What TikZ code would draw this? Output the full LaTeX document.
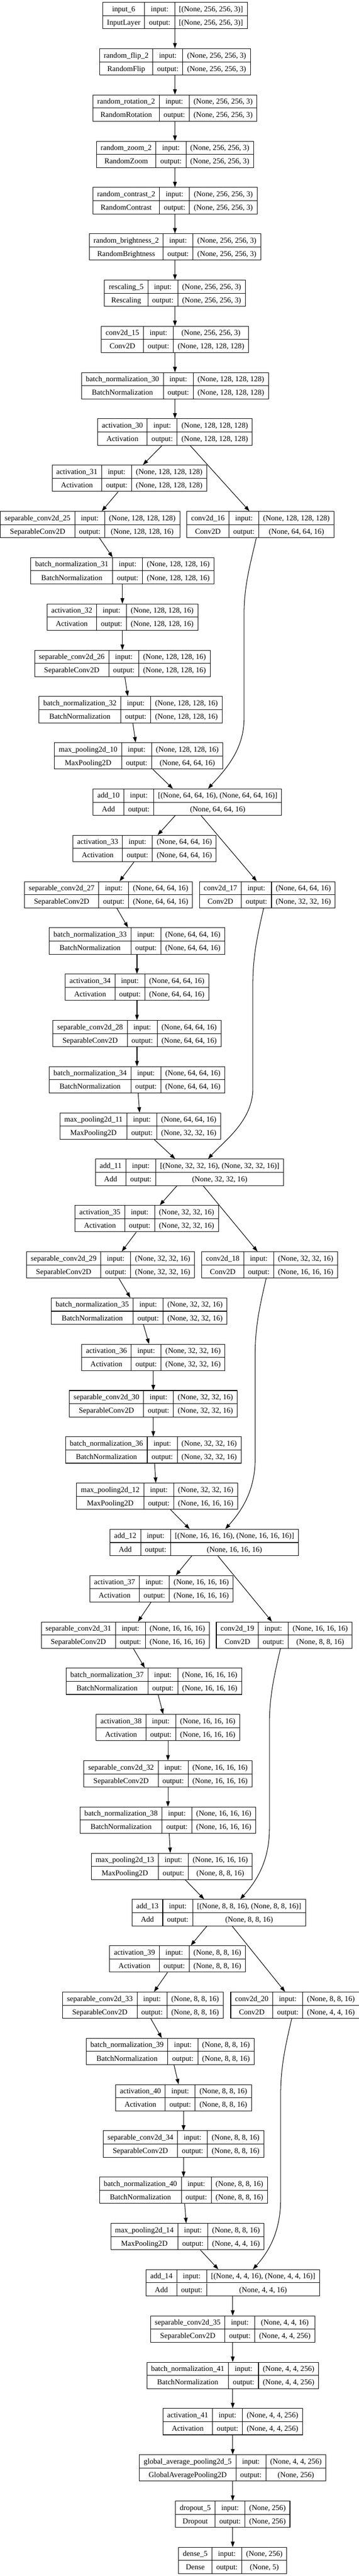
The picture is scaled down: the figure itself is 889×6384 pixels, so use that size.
\documentclass[tikz,border=0pt]{standalone}
\usepackage{fontspec}
\setmainfont{Liberation Serif}
\usepackage{tikz}
\usetikzlibrary{arrows.meta,calc}

\setlength{\tabcolsep}{8pt}
\setlength{\arrayrulewidth}{1pt}
\newcommand{\rowstrut}{\rule[-7.2pt]{0pt}{24pt}}
\newcommand{\layerbox}[4]{\begin{tabular}{c|c|c}\rowstrut #1 & input: & #3\\ \hline \rowstrut #2 & output: & #4\end{tabular}}

\tikzset{
  layer/.style={draw, line width=1pt, inner sep=0pt, fill=white, font=\fontsize{14}{16.8}\selectfont},
  edge/.style={line width=1pt, -{Triangle[length=10pt,width=7pt]}}
}

\begin{document}
\begin{tikzpicture}[x=0.75pt, y=-0.75pt]
\useasboundingbox (0,0) rectangle (889,6384);

\node[layer] (in6) at (433.7,38.6) {\layerbox{input\_6}{InputLayer}{[(None, 256, 256, 3)]}{[(None, 256, 256, 3)]}};
\node[layer] (flip2) at (433.7,153.3) {\layerbox{random\_flip\_2}{RandomFlip}{(None, 256, 256, 3)}{(None, 256, 256, 3)}};
\node[layer] (rot2) at (433.7,267.9) {\layerbox{random\_rotation\_2}{RandomRotation}{(None, 256, 256, 3)}{(None, 256, 256, 3)}};
\node[layer] (zoom2) at (433.7,382.6) {\layerbox{random\_zoom\_2}{RandomZoom}{(None, 256, 256, 3)}{(None, 256, 256, 3)}};
\node[layer] (contr2) at (433.7,497.3) {\layerbox{random\_contrast\_2}{RandomContrast}{(None, 256, 256, 3)}{(None, 256, 256, 3)}};
\node[layer] (bright2) at (433.7,611.9) {\layerbox{random\_brightness\_2}{RandomBrightness}{(None, 256, 256, 3)}{(None, 256, 256, 3)}};
\node[layer] (resc5) at (433.7,726.6) {\layerbox{rescaling\_5}{Rescaling}{(None, 256, 256, 3)}{(None, 256, 256, 3)}};
\node[layer] (conv15) at (433.7,841.3) {\layerbox{conv2d\_15}{Conv2D}{(None, 256, 256, 3)}{(None, 128, 128, 128)}};
\node[layer] (bn30) at (433.7,956.0) {\layerbox{batch\_normalization\_30}{BatchNormalization}{(None, 128, 128, 128)}{(None, 128, 128, 128)}};
\node[layer] (act30) at (433.7,1070.6) {\layerbox{activation\_30}{Activation}{(None, 128, 128, 128)}{(None, 128, 128, 128)}};
\node[layer] (act31) at (320.8,1185.3) {\layerbox{activation\_31}{Activation}{(None, 128, 128, 128)}{(None, 128, 128, 128)}};
\node[layer] (sep25) at (223.4,1300.0) {\layerbox{separable\_conv2d\_25}{SeparableConv2D}{(None, 128, 128, 128)}{(None, 128, 128, 16)}};
\node[layer] (conv16) at (645.6,1300.0) {\layerbox{conv2d\_16}{Conv2D}{(None, 128, 128, 128)}{(None, 64, 64, 16)}};
\node[layer] (bn31) at (303.4,1414.6) {\layerbox{batch\_normalization\_31}{BatchNormalization}{(None, 128, 128, 16)}{(None, 128, 128, 16)}};
\node[layer] (act32) at (303.4,1529.3) {\layerbox{activation\_32}{Activation}{(None, 128, 128, 16)}{(None, 128, 128, 16)}};
\node[layer] (sep26) at (303.4,1644.0) {\layerbox{separable\_conv2d\_26}{SeparableConv2D}{(None, 128, 128, 16)}{(None, 128, 128, 16)}};
\node[layer] (bn32) at (323.6,1758.7) {\layerbox{batch\_normalization\_32}{BatchNormalization}{(None, 128, 128, 16)}{(None, 128, 128, 16)}};
\node[layer] (pool10) at (343.9,1873.3) {\layerbox{max\_pooling2d\_10}{MaxPooling2D}{(None, 128, 128, 16)}{(None, 64, 64, 16)}};
\node[layer] (add10) at (464.4,1988.0) {\layerbox{add\_10}{Add}{[(None, 64, 64, 16), (None, 64, 64, 16)]}{(None, 64, 64, 16)}};
\node[layer] (act33) at (358.4,2102.7) {\layerbox{activation\_33}{Activation}{(None, 64, 64, 16)}{(None, 64, 64, 16)}};
\node[layer] (sep27) at (269.0,2217.3) {\layerbox{separable\_conv2d\_27}{SeparableConv2D}{(None, 64, 64, 16)}{(None, 64, 64, 16)}};
\node[layer] (conv17) at (662.7,2217.3) {\layerbox{conv2d\_17}{Conv2D}{(None, 64, 64, 16)}{(None, 32, 32, 16)}};
\node[layer] (bn33) at (339.6,2332.0) {\layerbox{batch\_normalization\_33}{BatchNormalization}{(None, 64, 64, 16)}{(None, 64, 64, 16)}};
\node[layer] (act34) at (339.6,2446.7) {\layerbox{activation\_34}{Activation}{(None, 64, 64, 16)}{(None, 64, 64, 16)}};
\node[layer] (sep28) at (339.6,2561.3) {\layerbox{separable\_conv2d\_28}{SeparableConv2D}{(None, 64, 64, 16)}{(None, 64, 64, 16)}};
\node[layer] (bn34) at (339.6,2676.0) {\layerbox{batch\_normalization\_34}{BatchNormalization}{(None, 64, 64, 16)}{(None, 64, 64, 16)}};
\node[layer] (pool11) at (347.9,2790.7) {\layerbox{max\_pooling2d\_11}{MaxPooling2D}{(None, 64, 64, 16)}{(None, 32, 32, 16)}};
\node[layer] (add11) at (469.8,2905.4) {\layerbox{add\_11}{Add}{[(None, 32, 32, 16), (None, 32, 32, 16)]}{(None, 32, 32, 16)}};
\node[layer] (act35) at (363.9,3020.0) {\layerbox{activation\_35}{Activation}{(None, 32, 32, 16)}{(None, 32, 32, 16)}};
\node[layer] (sep29) at (274.0,3134.7) {\layerbox{separable\_conv2d\_29}{SeparableConv2D}{(None, 32, 32, 16)}{(None, 32, 32, 16)}};
\node[layer] (conv18) at (668.4,3134.7) {\layerbox{conv2d\_18}{Conv2D}{(None, 32, 32, 16)}{(None, 16, 16, 16)}};
\node[layer] (bn35) at (345.0,3249.4) {\layerbox{batch\_normalization\_35}{BatchNormalization}{(None, 32, 32, 16)}{(None, 32, 32, 16)}};
\node[layer] (act36) at (380.0,3364.0) {\layerbox{activation\_36}{Activation}{(None, 32, 32, 16)}{(None, 32, 32, 16)}};
\node[layer] (sep30) at (380.0,3478.7) {\layerbox{separable\_conv2d\_30}{SeparableConv2D}{(None, 32, 32, 16)}{(None, 32, 32, 16)}};
\node[layer] (bn36) at (380.0,3593.4) {\layerbox{batch\_normalization\_36}{BatchNormalization}{(None, 32, 32, 16)}{(None, 32, 32, 16)}};
\node[layer] (pool12) at (389.5,3708.0) {\layerbox{max\_pooling2d\_12}{MaxPooling2D}{(None, 32, 32, 16)}{(None, 16, 16, 16)}};
\node[layer] (add12) at (506.0,3822.7) {\layerbox{add\_12}{Add}{[(None, 16, 16, 16), (None, 16, 16, 16)]}{(None, 16, 16, 16)}};
\node[layer] (act37) at (400.3,3937.4) {\layerbox{activation\_37}{Activation}{(None, 16, 16, 16)}{(None, 16, 16, 16)}};
\node[layer] (sep31) at (310.5,4052.1) {\layerbox{separable\_conv2d\_31}{SeparableConv2D}{(None, 16, 16, 16)}{(None, 16, 16, 16)}};
\node[layer] (conv19) at (704.6,4052.1) {\layerbox{conv2d\_19}{Conv2D}{(None, 16, 16, 16)}{(None, 8, 8, 16)}};
\node[layer] (bn37) at (381.5,4166.7) {\layerbox{batch\_normalization\_37}{BatchNormalization}{(None, 16, 16, 16)}{(None, 16, 16, 16)}};
\node[layer] (act38) at (416.3,4281.4) {\layerbox{activation\_38}{Activation}{(None, 16, 16, 16)}{(None, 16, 16, 16)}};
\node[layer] (sep32) at (416.3,4396.1) {\layerbox{separable\_conv2d\_32}{SeparableConv2D}{(None, 16, 16, 16)}{(None, 16, 16, 16)}};
\node[layer] (bn38) at (416.3,4510.7) {\layerbox{batch\_normalization\_38}{BatchNormalization}{(None, 16, 16, 16)}{(None, 16, 16, 16)}};
\node[layer] (pool13) at (425.7,4625.4) {\layerbox{max\_pooling2d\_13}{MaxPooling2D}{(None, 16, 16, 16)}{(None, 8, 8, 16)}};
\node[layer] (add13) at (542.2,4740.1) {\layerbox{add\_13}{Add}{[(None, 8, 8, 16), (None, 8, 8, 16)]}{(None, 8, 8, 16)}};
\node[layer] (act39) at (440.2,4854.7) {\layerbox{activation\_39}{Activation}{(None, 8, 8, 16)}{(None, 8, 8, 16)}};
\node[layer] (sep33) at (354.5,4969.4) {\layerbox{separable\_conv2d\_33}{SeparableConv2D}{(None, 8, 8, 16)}{(None, 8, 8, 16)}};
\node[layer] (conv20) at (731.0,4969.4) {\layerbox{conv2d\_20}{Conv2D}{(None, 8, 8, 16)}{(None, 4, 4, 16)}};
\node[layer] (bn39) at (421.7,5084.1) {\layerbox{batch\_normalization\_39}{BatchNormalization}{(None, 8, 8, 16)}{(None, 8, 8, 16)}};
\node[layer] (act40) at (455.0,5198.7) {\layerbox{activation\_40}{Activation}{(None, 8, 8, 16)}{(None, 8, 8, 16)}};
\node[layer] (sep34) at (455.0,5313.4) {\layerbox{separable\_conv2d\_34}{SeparableConv2D}{(None, 8, 8, 16)}{(None, 8, 8, 16)}};
\node[layer] (bn40) at (455.0,5428.1) {\layerbox{batch\_normalization\_40}{BatchNormalization}{(None, 8, 8, 16)}{(None, 8, 8, 16)}};
\node[layer] (pool14) at (464.7,5542.8) {\layerbox{max\_pooling2d\_14}{MaxPooling2D}{(None, 8, 8, 16)}{(None, 4, 4, 16)}};
\node[layer] (add14) at (576.9,5657.4) {\layerbox{add\_14}{Add}{[(None, 4, 4, 16), (None, 4, 4, 16)]}{(None, 4, 4, 16)}};
\node[layer] (sep35) at (576.9,5772.1) {\layerbox{separable\_conv2d\_35}{SeparableConv2D}{(None, 4, 4, 16)}{(None, 4, 4, 256)}};
\node[layer] (bn41) at (576.9,5886.8) {\layerbox{batch\_normalization\_41}{BatchNormalization}{(None, 4, 4, 256)}{(None, 4, 4, 256)}};
\node[layer] (act41) at (576.9,6001.4) {\layerbox{activation\_41}{Activation}{(None, 4, 4, 256)}{(None, 4, 4, 256)}};
\node[layer] (gap5) at (576.9,6116.1) {\layerbox{global\_average\_pooling2d\_5}{GlobalAveragePooling2D}{(None, 4, 4, 256)}{(None, 256)}};
\node[layer] (drop5) at (576.9,6230.8) {\layerbox{dropout\_5}{Dropout}{(None, 256)}{(None, 256)}};
\node[layer] (dense5) at (576.9,6345.5) {\layerbox{dense\_5}{Dense}{(None, 256)}{(None, 5)}};

\draw[edge] (in6.south) -- (flip2.north);
\draw[edge] (flip2.south) -- (rot2.north);
\draw[edge] (rot2.south) -- (zoom2.north);
\draw[edge] (zoom2.south) -- (contr2.north);
\draw[edge] (contr2.south) -- (bright2.north);
\draw[edge] (bright2.south) -- (resc5.north);
\draw[edge] (resc5.south) -- (conv15.north);
\draw[edge] (conv15.south) -- (bn30.north);
\draw[edge] (bn30.south) -- (act30.north);
\draw[edge] ($(act30.south)+(-32,0)$) -- ($(act31.north)+(33.6,0)$);
\draw[edge] ($(act30.south)+(37.5,0)$) -- ($(conv16.north)+(-27.4,0)$);
\draw[edge] ($(act31.south)+(-27.9,0)$) -- ($(sep25.north)+(29,0)$);
\draw[edge] ($(sep25.south)+(23.3,0)$) -- ($(bn31.north)+(-24.2,0)$);
\draw[edge] (bn31.south) -- (act32.north);
\draw[edge] (act32.south) -- (sep26.north);
\draw[edge] ($(sep26.south)+(6,0)$) -- ($(bn32.north)+(-6.8,0)$);
\draw[edge] ($(bn32.south)+(5.7,0)$) -- ($(pool10.north)+(-7.7,0)$);
\draw[edge] ($(pool10.south)+(35,0)$) -- ($(add10.north)+(-35.9,0)$);
\draw[edge] ($(conv16.south)+(-10.3,0)$) .. controls (619.3,1402.7) and (605,1452.7) .. (605,1522.7) -- (605,1780.3) .. controls (605,1860.3) and (555.7,1910.3) .. ($(add10.north)+(51.3,0)$);
\draw[edge] ($(add10.south)+(-30.2,0)$) -- ($(act33.north)+(32.5,0)$);
\draw[edge] ($(add10.south)+(34.2,0)$) -- ($(conv17.north)+(-26.2,0)$);
\draw[edge] ($(act33.south)+(-26.2,0)$) -- ($(sep27.north)+(27.3,0)$);
\draw[edge] ($(sep27.south)+(20.5,0)$) -- ($(bn33.north)+(-22.2,0)$);
\draw[edge] (bn33.south) -- (act34.north);
\draw[edge] (act34.south) -- (sep28.north);
\draw[edge] (sep28.south) -- (bn34.north);
\draw[edge] ($(bn34.south)+(2.9,0)$) -- ($(pool11.north)+(-2,0)$);
\draw[edge] ($(pool11.south)+(34.4,0)$) -- ($(add11.north)+(-35.6,0)$);
\draw[edge] ($(conv17.south)+(-9.1,0)$) .. controls (637.6,2320) and (626.8,2370) .. (626.8,2440) -- (626.8,2697.7) .. controls (626.8,2777.7) and (555.7,2827.7) .. ($(add11.north)+(45.9,0)$);
\draw[edge] ($(add11.south)+(-31.1,0)$) -- ($(act35.north)+(32.1,0)$);
\draw[edge] ($(add11.south)+(33.9,0)$) -- ($(conv18.north)+(-30.2,0)$);
\draw[edge] ($(act35.south)+(-26,0)$) -- ($(sep29.north)+(28,0)$);
\draw[edge] ($(sep29.south)+(20.6,0)$) -- ($(bn35.north)+(-21.9,0)$);
\draw[edge] ($(bn35.south)+(10.6,0)$) -- ($(act36.north)+(-10.6,0)$);
\draw[edge] (act36.south) -- (sep30.north);
\draw[edge] (sep30.south) -- (bn36.north);
\draw[edge] ($(bn36.south)+(3.1,0)$) -- ($(pool12.north)+(-3.2,0)$);
\draw[edge] ($(pool12.south)+(33.3,0)$) -- ($(add12.north)+(-35.9,0)$);
\draw[edge] ($(conv18.south)+(-8.6,0)$) .. controls (643.8,3237.4) and (632.5,3287.4) .. (632.5,3357.4) -- (632.5,3615) .. controls (632.5,3695) and (598.4,3745) .. ($(add12.north)+(52.4,0)$);
\draw[edge] ($(add12.south)+(-30.8,0)$) -- ($(act37.north)+(35.6,0)$);
\draw[edge] ($(add12.south)+(34.2,0)$) -- ($(conv19.north)+(-30.5,0)$);
\draw[edge] ($(act37.south)+(-25.9,0)$) -- ($(sep31.north)+(31.4,0)$);
\draw[edge] ($(sep31.south)+(20,0)$) -- ($(bn37.north)+(-22.5,0)$);
\draw[edge] ($(bn37.south)+(10.5,0)$) -- ($(act38.north)+(-11.7,0)$);
\draw[edge] (act38.south) -- (sep32.north);
\draw[edge] (sep32.south) -- (bn38.north);
\draw[edge] ($(bn38.south)+(3.1,0)$) -- ($(pool13.north)+(-3.5,0)$);
\draw[edge] ($(pool13.south)+(33.6,0)$) -- ($(add13.north)+(-36.2,0)$);
\draw[edge] ($(conv19.south)+(-9.4,0)$) .. controls (679.2,4154.8) and (667.8,4204.8) .. (667.8,4274.8) -- (667.8,4532.4) .. controls (667.8,4612.4) and (635.4,4662.4) .. ($(add13.north)+(53.2,0)$);
\draw[edge] ($(add13.south)+(-29.4,0)$) -- ($(act39.north)+(32.7,0)$);
\draw[edge] ($(add13.south)+(33.3,0)$) -- ($(conv20.north)+(-24.4,0)$);
\draw[edge] ($(act39.south)+(-24.8,0)$) -- ($(sep33.north)+(27.3,0)$);
\draw[edge] ($(sep33.south)+(19.3,0)$) -- ($(bn39.north)+(-20.6,0)$);
\draw[edge] ($(bn39.south)+(9.6,0)$) -- ($(act40.north)+(-12.3,0)$);
\draw[edge] (act40.south) -- (sep34.north);
\draw[edge] (sep34.south) -- (bn40.north);
\draw[edge] ($(bn40.south)+(2.8,0)$) -- ($(pool14.north)+(-3.2,0)$);
\draw[edge] ($(pool14.south)+(32.2,0)$) -- ($(add14.north)+(-35.6,0)$);
\draw[edge] ($(conv20.south)+(-7.9,0)$) .. controls (707.1,5072.1) and (695.7,5122.1) .. (695.7,5192.1) -- (695.7,5449.7) .. controls (695.7,5529.7) and (666.8,5579.7) .. ($(add14.north)+(49.9,0)$);
\draw[edge] (add14.south) -- (sep35.north);
\draw[edge] (sep35.south) -- (bn41.north);
\draw[edge] (bn41.south) -- (act41.north);
\draw[edge] (act41.south) -- (gap5.north);
\draw[edge] (gap5.south) -- (drop5.north);
\draw[edge] (drop5.south) -- (dense5.north);
\end{tikzpicture}
\end{document}
